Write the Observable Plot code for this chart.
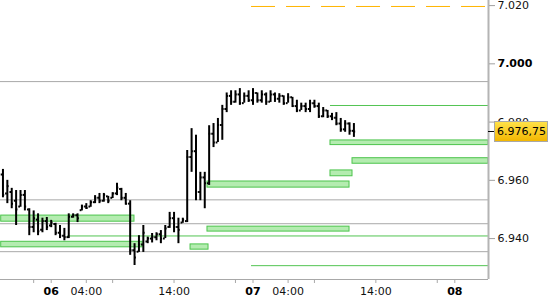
<!DOCTYPE html>
<html><head><meta charset="utf-8">
<script src="https://cdn.jsdelivr.net/npm/d3@7"></script>
<script src="https://cdn.jsdelivr.net/npm/@observablehq/plot@0.6"></script>
<style>
html,body{margin:0;padding:0;background:#fff;}
#chart svg{display:block;}
</style></head><body><div id="chart"></div>
<script>
// time axis: trading hours counted from day 06 00:00 (23 trading hours per day)
const barHours = [-5.5,-5,-4.5,-4,-3.5,-3,-2.5,-2,-1.5,-1,-0.5,0,0.5,1,1.5,2,2.5,3,3.5,4,4.5,5,5.5,6,6.5,7,7.5,8,8.5,9,9.5,10,10.5,11,11.5,12,12.5,13,13.5,14,14.5,15,15.5,16,16.5,17,17.5,18,18.5,19,19.5,20,20.5,21,21.5,22,22.5,23,23.5,24,24.5,25,25.5,26,26.5,27,27.5,28,28.5,29,29.5,30,30.5,31,31.5,32,32.5,33,33.5,34,34.5];
const barOpen = [6962,6955.5,6956,6953,6951,6955,6950,6944,6946.5,6943,
6946,6944.5,6945,6942,6941,6940.5,6947.5,6948,6949.75,6951,
6951,6952.5,6954,6953,6954.5,6954,6955.5,6957,6954,6952,
6936,6935.5,6938,6939,6940,6940.5,6941.5,6940,6944,6947,
6944,6945.5,6946,6968,6970,6956,6961,6959,6976,6973,
6979,6984.5,6989,6987,6989.5,6986.5,6989,6987.5,6990,6987.5,
6989.5,6987,6989.5,6988,6989,6986.5,6988.5,6985.5,6984,6985.5,
6984.5,6986.5,6985.5,6982,6984,6982,6981.5,6979.5,6977.5,6979.5,
6977];
const barHigh = [6963.75,6960,6957.25,6956.5,6956.5,6956.5,6950.25,6949.5,6948.5,6947,
6947.25,6946.25,6945.25,6944.5,6943.5,6948.5,6948.5,6948.5,6951.5,6952,
6953,6954.75,6955.5,6955.5,6954.5,6955.75,6959,6957.25,6955.5,6953,
6938.25,6941,6944.5,6940.5,6941.75,6942,6942.75,6944.5,6949,6949,
6947,6947,6970.25,6977.75,6975.5,6962.75,6962.75,6978.75,6979.5,6981.25,
6985.75,6990,6990.75,6990.75,6991.5,6990,6990.75,6991.5,6990,6990.75,
6990,6990.75,6990,6989.75,6989,6989.75,6988.5,6987.5,6986.5,6986.5,
6987.5,6987.5,6986.5,6985,6984,6983,6983.25,6981.25,6980.5,6979.75,
6979.5];
const barLow = [6954,6952,6950.25,6944.5,6950.75,6949.5,6941,6942,6941,6942,
6942.75,6943.75,6941,6940,6939.25,6940,6947,6945.5,6949.5,6950,
6950.75,6952,6952,6952.5,6952,6953.75,6954.75,6953,6951.5,6934.25,
6930.75,6935.25,6935.25,6938.25,6938.5,6939.25,6938.25,6940,6943.5,6942,
6938.25,6945.25,6945.5,6962.75,6953,6953,6950.25,6958.25,6971.25,6973,
6973.75,6983.25,6985.75,6986.5,6985.75,6986.5,6986.75,6985.75,6986.5,6986.5,
6985.75,6986.75,6986.75,6986.5,6985.75,6986.5,6985,6983.25,6984,6983.25,
6983.25,6984.75,6981.25,6981.5,6981.25,6980.5,6978.75,6976.5,6976.5,6975.5,
6974.75];
const barClose = [6955,6958,6952,6950,6955,6951,6944,6947,6942.5,6946,
6944,6945.5,6942,6941,6940.5,6947.5,6948,6947,6951,6950.5,
6952.5,6954,6953,6955,6953,6955.5,6957.5,6954,6952,6936,
6933.5,6938,6942,6940,6940.5,6941.5,6940,6943.5,6947,6944,
6943,6946.5,6968,6970,6956,6961,6959,6976,6973,6979,
6984.5,6989,6987,6989.5,6986.5,6989,6987.5,6990,6987.5,6989.5,
6987,6989.5,6988,6989,6986.5,6988.5,6985.5,6984,6985.5,6984.5,
6986.5,6985.5,6982,6984,6982,6981.5,6979.5,6977.5,6979.5,6977,
6976.75];

// axes
const xDomain = [-5.78, 49.84];
const yDomain = [6925.95, 7021.75];
const yTicks = [7020, 6980, 6960, 6940];
const yBoldTicks = [7000];
const xMinorTicks = [-2, 7, 21, 30, 44];
const xDayTicks = [0, 23, 46];
const xDayLabels = ["06", "07", "08"];
const xTimeTicks = [4, 14, 27, 37];
const xTimeLabels = ["04:00", "14:00", "04:00", "14:00"];

// horizontal levels
const grayLevels = [6993.9, 6953.3, 6945.1, 6935.5];
const greenLineStart = [31.83, 1.86, 22.83, 34.34];
const greenLineLevel = [6985.7, 6940.9, 6930.7, 6967.1];
const greenLineWidth = [1, 1, 1, 2];
const dashedStart = [22.83];
const dashedLevel = [7019.7];

// zones
const boxStart = [-5.7, -5.7, 15.88, 17.81, 17.81, 31.83, 34.34, 31.83];
const boxEnd = [9.49, 10.41, 17.93, 34.0, 34.0, 49.84, 49.84, 34.34];
const boxTop = [6947.9, 6938.9, 6938.0, 6959.6, 6944.1, 6973.7, 6967.6, 6963.4];
const boxBottom = [6945.8, 6937.0, 6936.2, 6957.5, 6942.4, 6972.1, 6965.7, 6961.4];

const lastPrice = 6976.75;

const locale = d3.formatLocale({decimal: ",", thousands: ".", grouping: [3], currency: ["", ""]});
const fmtInt = locale.format(",.0f");
const fmtPrice = locale.format(",.2f");

const bars = barHours.map((t, i) => ({t, open: barOpen[i], high: barHigh[i], low: barLow[i], close: barClose[i]}));
const boxes = boxStart.map((s, i) => ({x1: s, x2: boxEnd[i], y1: boxBottom[i], y2: boxTop[i]}));
const greens = greenLineStart.map((s, i) => ({x1: s, level: greenLineLevel[i], w: greenLineWidth[i]}));

const FONT = "DejaVu Sans";

function priceTag(index, scales, values, dimensions) {
  const ns = "http://www.w3.org/2000/svg";
  const g = document.createElementNS(ns, "g");
  const x0 = dimensions.width - dimensions.marginRight;
  const y = Math.round(scales.y(lastPrice)) + 0.5;
  g.innerHTML = `
    <defs><linearGradient id="pg" x1="0" y1="0" x2="0" y2="1">
      <stop offset="0" stop-color="#ffe24a"/><stop offset="1" stop-color="#f2b600"/>
    </linearGradient></defs>
    <line x1="${x0}" x2="${x0 + 7}" y1="${y}" y2="${y}" stroke="#000" stroke-width="1"/>
    <rect x="${x0 + 6.5}" y="${y - 10}" width="53" height="20" fill="url(#pg)" stroke="#a8a8a8" stroke-width="1"/>
    <text x="${x0 + 9}" y="${y}" dy="0.36em" text-anchor="start" font-family="${FONT}" font-size="11" fill="#000">${fmtPrice(lastPrice)}</text>`;
  return g;
}

const chart = Plot.plot({
  width: 550,
  height: 300,
  marginLeft: 0,
  marginRight: 62,
  marginTop: 0,
  marginBottom: 21,
  style: {fontFamily: FONT, fontSize: "11px", background: "#fff", overflow: "visible"},
  x: {type: "linear", domain: xDomain, axis: null},
  y: {type: "linear", domain: yDomain, axis: null},
  marks: [
    Plot.ruleY(grayLevels, {stroke: "#a8a8a8", strokeWidth: 1}),
    Plot.ruleY(greens, {x1: "x1", x2: () => xDomain[1], y: "level", stroke: "#52c452", strokeWidth: "w"}),
    Plot.ruleY(dashedLevel.map((v, i) => ({v, s: dashedStart[i]})), {x1: "s", x2: () => xDomain[1], y: "v", stroke: "#ffb400", strokeWidth: 1, strokeDasharray: "24,11"}),
    Plot.rect(boxes, {x1: "x1", x2: "x2", y1: "y1", y2: "y2", fill: "#b4ecb0", stroke: "#4cc44c", strokeWidth: 1}),
    Plot.ruleX(bars, {x: "t", y1: "low", y2: "high", stroke: "#000", strokeWidth: 2}),
    Plot.ruleY(bars, {x1: d => d.t - 0.2, x2: "t", y: "open", stroke: "#000", strokeWidth: 2}),
    Plot.ruleY(bars, {x1: "t", x2: d => d.t + 0.2, y: "close", stroke: "#000", strokeWidth: 2}),
    Plot.ruleY([yDomain[0]], {stroke: "#a8a8a8", strokeWidth: 1}),
    Plot.ruleX([xDomain[1]], {stroke: "#b4b4b4", strokeWidth: 2}),
    Plot.axisY(yTicks, {anchor: "right", tickSize: 6, tickPadding: 3, tickFormat: fmtInt, stroke: "#a0a0a0", fill: "#111", fontSize: 11}),
    Plot.axisY(yBoldTicks, {anchor: "right", tickSize: 6, tickPadding: 3, tickFormat: fmtInt, stroke: "#a0a0a0", fill: "#000", fontSize: 11, fontWeight: "bold"}),
    Plot.axisX(xMinorTicks, {anchor: "bottom", tickSize: 4, tickFormat: () => "", stroke: "#a8a8a8"}),
    Plot.axisX(xTimeTicks, {anchor: "bottom", tickSize: 4, tickPadding: 4, tickFormat: d => xTimeLabels[xTimeTicks.indexOf(d)], stroke: "#a8a8a8", fill: "#111", fontSize: 11}),
    Plot.axisX(xDayTicks, {anchor: "bottom", tickSize: 4, tickPadding: 4, tickFormat: d => xDayLabels[xDayTicks.indexOf(d)], stroke: "#a8a8a8", fill: "#000", fontSize: 11, fontWeight: "bold"}),
    priceTag
  ]
});
document.getElementById("chart").appendChild(chart);
</script></body></html>
